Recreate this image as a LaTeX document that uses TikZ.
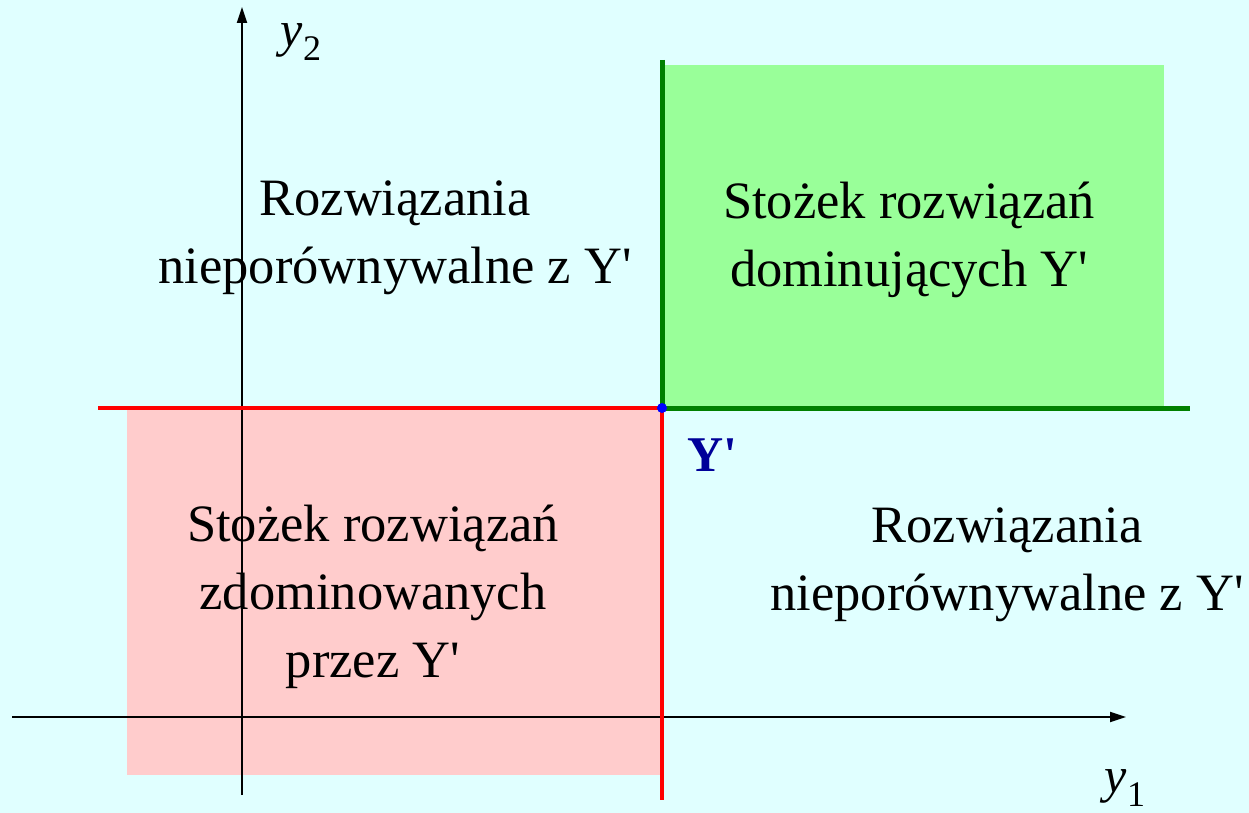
\documentclass[tikz,border=0pt]{standalone}
\usepackage{fontspec}
\setmainfont{Liberation Serif}
\usetikzlibrary{arrows.meta}
\definecolor{bgcyan}{HTML}{E0FFFF}
\definecolor{domgreen}{HTML}{99FF99}
\definecolor{lowred}{HTML}{FFCCCC}
\definecolor{edgegreen}{HTML}{008000}
\definecolor{pointblue}{HTML}{000099}
\tikzset{
  axis/.style={line width=2pt, -{Triangle[length=16pt,width=10pt]}},
  regiontext/.style={align=center, font=\fontsize{52.5}{68}\selectfont, inner sep=0pt},
  axislabel/.style={font=\fontsize{50}{60}\selectfont, inner sep=0pt},
}
\newcommand{\axisname}[1]{\textit{y}\raisebox{-0.28em}{\fontsize{36}{40}\selectfont #1}}
\newcommand{\ap}{\textquotesingle}
\begin{document}
\begin{tikzpicture}[x=1pt, y=-1pt]
  % canvas
  \fill[bgcyan] (0,0) rectangle (1249,813);
  \useasboundingbox (0,0) rectangle (1249,813);

  % cones
  \fill[lowred] (127,408) rectangle (661,775);
  \fill[domgreen] (661,65) rectangle (1164,408);

  % axes
  \coordinate (xs) at (12,717);
  \coordinate (xe) at (1126,717);
  \coordinate (ys) at (242,795);
  \coordinate (ye) at (242,7);
  \draw[axis] (xs) -- (xe);
  \draw[axis] (ys) -- (ye);

  % point Y'
  \coordinate (p) at (662,408);
  \coordinate (redl) at (98,408);
  \coordinate (redd) at (662,800);
  \coordinate (greenu) at (662,60);
  \coordinate (greenr) at (1190,408);
  \draw[red, line width=4pt] (redl) -- (p) -- (redd);
  \draw[edgegreen, line width=5pt] (greenu) -- (p) -- (greenr);
  \fill[blue] (p) circle (5pt);
  \node[font=\fontsize{50}{60}\selectfont\bfseries, text=pointblue, inner sep=0pt] (plabel) at (712,455) {Y\ap};

  % axis labels
  \node[axislabel] (y2) at (301,42) {\axisname{2}};
  \node[axislabel] (y1) at (1125,788) {\axisname{1}};

  % region descriptions
  \node[regiontext] (tl) at (395,238) {Rozwiązania\\nieporównywalne z Y\ap};
  \node[regiontext] (tr) at (909,240) {Stożek rozwiązań\\dominujących Y\ap};
  \node[regiontext] (bl) at (373,597) {Stożek rozwiązań\\zdominowanych\\przez Y\ap};
  \node[regiontext] (br) at (1007,565) {Rozwiązania\\nieporównywalne z Y\ap};
\end{tikzpicture}
\end{document}
